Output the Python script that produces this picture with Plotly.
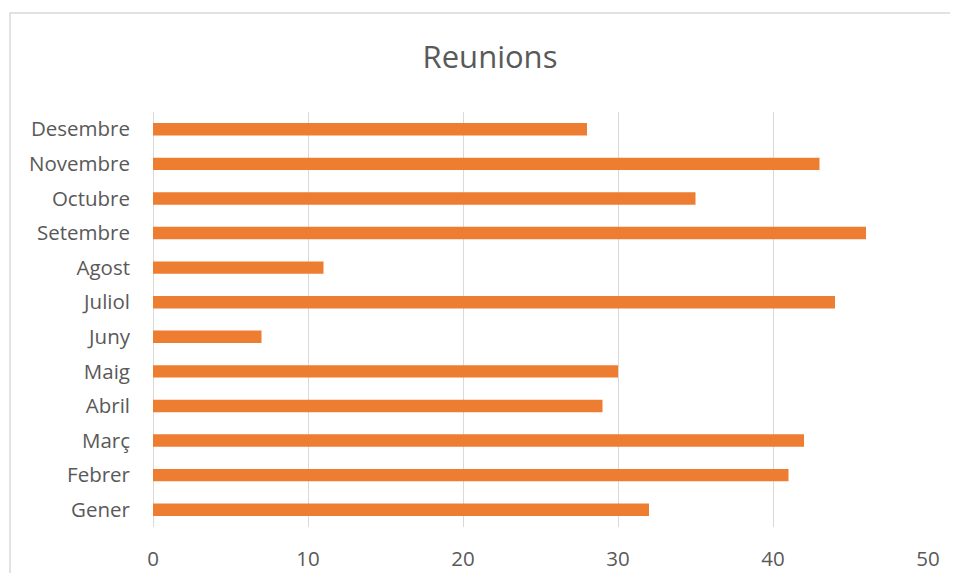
import plotly.graph_objects as go

months = ["Gener", "Febrer", "Març", "Abril", "Maig", "Juny", "Juliol",
          "Agost", "Setembre", "Octubre", "Novembre", "Desembre"]
values = [32, 41, 42, 29, 30, 7, 44, 11, 46, 35, 43, 28]
x_ticks = [0, 10, 20, 30, 40, 50]

# page has an 8px body margin; figure sized so page fits 958x581
W, H = 942, 565
L, R, T, B = 145, 22, 104, 46
pw, ph = W - L - R, H - T - B

fig = go.Figure(go.Bar(
    x=values, y=months, orientation="h",
    marker=dict(color="#ED7D31", line=dict(width=0)),
))

txt = "#595959"
font = "Open Sans"
fig.update_layout(
    width=W, height=H,
    margin=dict(l=L, r=R, t=T, b=B, autoexpand=False),
    paper_bgcolor="white", plot_bgcolor="white",
    bargap=0.64,
    showlegend=False,
    title=dict(text="Reunions", x=(490 - 8) / W, xanchor="center", xref="container",
               y=1 - 49 / H, yanchor="middle", yref="container",
               font=dict(family=font, size=31, color=txt)),
    font=dict(family=font, color=txt),
    xaxis=dict(range=[0, 50], tickvals=x_ticks, showgrid=True, gridcolor="#d9d9d9",
               gridwidth=1, zeroline=True, zerolinecolor="#d9d9d9", zerolinewidth=1,
               showline=False, ticks="", tickfont=dict(size=20.5, color=txt),
               ticklabelstandoff=17, automargin=False),
    yaxis=dict(showgrid=False, zeroline=False, showline=False, ticks="",
               tickfont=dict(size=20.5, color=txt), ticklabelstandoff=22,
               automargin=False),
    shapes=[dict(type="rect", xref="paper", yref="paper",
                 x0=(2 - L) / pw, x1=(W + 20 - L) / pw,
                 y0=-0.5, y1=(H - B - 5) / ph,
                 line=dict(color="#d9d9d9", width=1.5), fillcolor="rgba(0,0,0,0)",
                 layer="below")],
)

fig.write_html("out.html")
